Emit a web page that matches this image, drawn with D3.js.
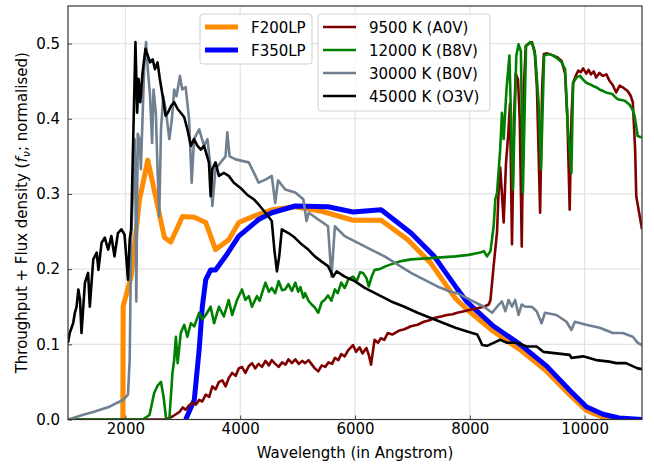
<!DOCTYPE html>
<html>
<head>
<meta charset="utf-8">
<script src="https://cdn.jsdelivr.net/npm/d3@7"></script>
<style>
  body { margin: 0; background: #fff; }
  text { font-family: "DejaVu Sans", sans-serif; }
</style>
</head>
<body>
<div id="chart-container"></div>
<script>
// filter throughput curves: [wavelength, value]
var f200lp = [[1955,0],[1960,0.15],[2100,0.19],[2245,0.292],[2390,0.345],[2680,0.242],[2790,0.236],[2995,0.270],[3200,0.269],[3400,0.262],[3570,0.226],[3800,0.239],[3975,0.262],[4320,0.273],[4550,0.279],[4960,0.283],[5420,0.277],[5965,0.265],[6455,0.265],[6920,0.239],[7320,0.208],[7750,0.161],[7955,0.146],[8415,0.117],[8875,0.093],[9340,0.064],[9740,0.033],[10030,0.012],[10320,0.003],[10700,0],[11000,0]];

var f350lp = [[3050,0],[3200,0.026],[3285,0.093],[3340,0.150],[3400,0.186],[3485,0.199],[3570,0.199],[3745,0.217],[3975,0.244],[4320,0.266],[4550,0.275],[4960,0.284],[5530,0.283],[5965,0.276],[6455,0.279],[6975,0.248],[7380,0.217],[7750,0.177],[7955,0.156],[8415,0.124],[8875,0.100],[9340,0.071],[9740,0.039],[10030,0.017],[10320,0.007],[10600,0.002],[11000,0]];

// stellar spectra (normalised f_nu)
var a0v = [[1000,0],[2700,0],[2820,0.004],[2940,0.010],[3000,0.016],[3050,0.013],[3110,0.019],[3170,0.022],[3230,0.020],[3285,0.026],[3340,0.024],[3400,0.033],[3460,0.030],[3515,0.044],[3570,0.040],[3630,0.050],[3690,0.052],[3745,0.044],[3800,0.055],[3860,0.062],[3920,0.058],[3975,0.068],[4030,0.070],[4090,0.062],[4150,0.071],[4205,0.075],[4260,0.068],[4320,0.074],[4380,0.070],[4440,0.078],[4500,0.072],[4550,0.079],[4610,0.074],[4670,0.070],[4730,0.076],[4790,0.073],[4840,0.080],[4900,0.075],[4960,0.080],[5020,0.074],[5080,0.078],[5130,0.075],[5190,0.079],[5250,0.073],[5300,0.068],[5360,0.064],[5420,0.072],[5480,0.070],[5540,0.076],[5600,0.074],[5650,0.082],[5710,0.079],[5760,0.087],[5820,0.084],[5880,0.092],[5965,0.099],[6020,0.090],[6080,0.096],[6130,0.088],[6200,0.095],[6240,0.086],[6280,0.073],[6340,0.106],[6400,0.102],[6450,0.108],[6510,0.106],[6570,0.115],[6650,0.113],[6760,0.118],[6860,0.120],[6975,0.124],[7090,0.126],[7200,0.130],[7300,0.132],[7380,0.135],[7500,0.137],[7600,0.139],[7700,0.140],[7780,0.142],[7900,0.144],[8010,0.146],[8130,0.148],[8245,0.150],[8330,0.153],[8360,0.159],[8415,0.204],[8475,0.250],[8500,0.300],[8530,0.335],[8560,0.300],[8590,0.262],[8630,0.340],[8670,0.380],[8700,0.420],[8735,0.233],[8770,0.400],[8800,0.460],[8840,0.452],[8870,0.400],[8905,0.230],[8940,0.440],[8975,0.497],[9030,0.500],[9080,0.502],[9130,0.490],[9170,0.440],[9225,0.275],[9260,0.440],[9290,0.486],[9350,0.487],[9425,0.485],[9520,0.482],[9600,0.477],[9660,0.460],[9700,0.400],[9740,0.279],[9770,0.400],[9800,0.448],[9850,0.458],[9890,0.464],[9935,0.462],[9975,0.467],[10030,0.460],[10070,0.465],[10110,0.459],[10160,0.463],[10200,0.455],[10260,0.461],[10320,0.457],[10380,0.459],[10430,0.451],[10490,0.445],[10550,0.435],[10610,0.444],[10680,0.441],[10750,0.437],[10800,0.431],[10840,0.422],[10880,0.360],[10900,0.297],[11000,0.253]];

var b8v = [[1000,0],[2300,0],[2420,0.006],[2500,0.035],[2560,0.045],[2620,0.050],[2665,0.030],[2710,0],[2765,0],[2820,0.062],[2850,0.079],[2880,0.110],[2910,0.075],[2965,0.115],[3025,0.126],[3080,0.110],[3140,0.128],[3200,0.124],[3285,0.142],[3340,0.133],[3400,0.139],[3485,0.150],[3545,0.128],[3630,0.150],[3715,0.137],[3800,0.159],[3860,0.139],[3945,0.159],[4030,0.173],[4090,0.159],[4150,0.164],[4205,0.150],[4290,0.164],[4340,0.158],[4380,0.168],[4440,0.182],[4500,0.170],[4550,0.175],[4610,0.168],[4670,0.184],[4730,0.172],[4780,0.173],[4840,0.180],[4900,0.171],[4960,0.182],[5010,0.170],[5050,0.176],[5100,0.162],[5130,0.168],[5190,0.158],[5245,0.153],[5300,0.149],[5360,0.142],[5420,0.156],[5470,0.159],[5530,0.165],[5590,0.158],[5650,0.173],[5700,0.168],[5760,0.182],[5820,0.175],[5880,0.186],[5965,0.190],[6030,0.184],[6090,0.196],[6140,0.195],[6200,0.188],[6240,0.177],[6290,0.190],[6340,0.199],[6430,0.200],[6540,0.204],[6690,0.208],[6830,0.211],[6975,0.213],[7180,0.214],[7380,0.215],[7560,0.216],[7750,0.217],[7980,0.219],[8185,0.222],[8245,0.224],[8300,0.217],[8360,0.224],[8415,0.257],[8445,0.293],[8475,0.302],[8530,0.360],[8560,0.408],[8590,0.373],[8640,0.440],[8690,0.484],[8750,0.306],[8810,0.484],[8850,0.499],[8890,0.490],[8925,0.302],[8980,0.497],[9050,0.502],[9090,0.500],[9140,0.484],[9200,0.420],[9240,0.333],[9295,0.484],[9380,0.486],[9455,0.484],[9530,0.480],[9600,0.475],[9660,0.466],[9710,0.386],[9770,0.328],[9800,0.448],[9860,0.455],[9920,0.457],[9975,0.452],[10030,0.448],[10090,0.446],[10140,0.444],[10200,0.442],[10260,0.439],[10320,0.437],[10370,0.435],[10430,0.434],[10480,0.433],[10530,0.429],[10580,0.426],[10640,0.425],[10700,0.424],[10780,0.419],[10830,0.413],[10870,0.404],[10925,0.377],[11000,0.375]];

var b0v = [[1000,0],[1090,0.002],[1250,0.006],[1440,0.010],[1600,0.014],[1725,0.017],[1850,0.022],[1960,0.026],[2045,0.033],[2075,0.080],[2100,0.240],[2130,0.300],[2160,0.373],[2175,0.300],[2190,0.157],[2215,0.380],[2245,0.373],[2270,0.333],[2330,0.475],[2360,0.502],[2390,0.466],[2430,0.430],[2465,0.368],[2490,0.439],[2530,0.408],[2560,0.333],[2590,0.270],[2620,0.386],[2660,0.430],[2710,0.408],[2765,0.373],[2810,0.399],[2850,0.439],[2890,0.430],[2950,0.457],[2990,0.439],[3050,0.442],[3110,0.399],[3155,0.315],[3195,0.373],[3285,0.386],[3370,0.364],[3430,0.373],[3485,0.333],[3515,0.284],[3570,0.333],[3660,0.342],[3745,0.350],[3775,0.382],[3815,0.350],[3920,0.346],[4030,0.344],[4150,0.342],[4265,0.324],[4320,0.315],[4440,0.319],[4550,0.324],[4610,0.288],[4660,0.318],[4785,0.306],[4960,0.302],[5100,0.293],[5155,0.264],[5195,0.275],[5360,0.266],[5530,0.257],[5590,0.190],[5650,0.257],[5820,0.244],[6050,0.235],[6280,0.226],[6515,0.217],[6745,0.206],[6975,0.195],[7205,0.186],[7435,0.177],[7665,0.170],[7780,0.168],[8010,0.159],[8245,0.150],[8390,0.142],[8475,0.150],[8560,0.157],[8620,0.144],[8675,0.159],[8735,0.150],[8790,0.159],[8850,0.139],[8905,0.153],[8965,0.150],[9080,0.150],[9165,0.144],[9250,0.128],[9310,0.142],[9510,0.139],[9685,0.130],[9770,0.119],[9830,0.130],[10030,0.126],[10260,0.122],[10430,0.117],[10490,0.115],[10665,0.115],[10840,0.110],[10925,0.102],[11000,0.099]];

var o3v = [[1000,0.102],[1030,0.115],[1090,0.128],[1120,0.142],[1150,0.150],[1180,0.173],[1210,0.159],[1235,0.115],[1295,0.182],[1350,0.195],[1380,0.150],[1440,0.213],[1500,0.222],[1530,0.199],[1585,0.235],[1640,0.242],[1700,0.226],[1755,0.244],[1810,0.217],[1870,0.248],[1930,0.253],[1985,0.246],[2045,0.186],[2075,0.240],[2100,0.253],[2140,0.386],[2175,0.502],[2205,0.408],[2230,0.453],[2260,0.422],[2300,0.462],[2350,0.493],[2390,0.484],[2430,0.475],[2475,0.479],[2515,0.466],[2560,0.475],[2600,0.453],[2650,0.430],[2700,0.404],[2740,0.408],[2795,0.417],[2850,0.422],[2910,0.413],[2965,0.408],[3025,0.402],[3080,0.386],[3140,0.364],[3195,0.373],[3255,0.364],[3315,0.359],[3370,0.364],[3455,0.342],[3485,0.297],[3515,0.333],[3570,0.342],[3630,0.324],[3715,0.328],[3800,0.324],[3890,0.315],[4005,0.308],[4120,0.299],[4235,0.293],[4320,0.286],[4440,0.275],[4550,0.264],[4595,0.226],[4640,0.197],[4680,0.217],[4725,0.253],[4840,0.248],[4950,0.242],[5070,0.233],[5185,0.226],[5300,0.217],[5420,0.210],[5530,0.204],[5620,0.190],[5680,0.197],[5820,0.190],[5995,0.184],[6170,0.175],[6400,0.166],[6630,0.157],[6860,0.150],[7090,0.142],[7320,0.135],[7550,0.128],[7750,0.122],[7955,0.117],[8130,0.113],[8175,0.106],[8215,0.099],[8300,0.098],[8415,0.102],[8530,0.106],[8650,0.102],[8820,0.102],[8990,0.097],[9165,0.097],[9280,0.090],[9510,0.088],[9740,0.086],[9770,0.082],[9975,0.084],[10200,0.079],[10430,0.077],[10550,0.075],[10720,0.075],[10925,0.068],[11000,0.067]];

var xTicks = [2000, 4000, 6000, 8000, 10000];
var yTicks = [0.0, 0.1, 0.2, 0.3, 0.4, 0.5];

var filters = [
  { name: "F200LP", data: f200lp, color: "darkorange" },
  { name: "F350LP", data: f350lp, color: "blue" }
];
var spectra = [
  { name: "9500 K (A0V)", data: a0v, color: "#800000" },
  { name: "12000 K (B8V)", data: b8v, color: "green" },
  { name: "30000 K (B0V)", data: b0v, color: "slategrey" },
  { name: "45000 K (O3V)", data: o3v, color: "black" }
];

var svg = d3.select("#chart-container").append("svg")
  .attr("width", 654)
  .attr("height", 464);

var mLeft = 68, mRight = 642, mTop = 6, mBottom = 419.5;

var x = d3.scaleLinear().domain([1000, 11000]).range([mLeft, mRight]);
var y = d3.scaleLinear().domain([0, 0.55]).range([mBottom, mTop]);

// grid
svg.append("g").selectAll("line").data(xTicks).enter().append("line")
  .attr("x1", d => x(d)).attr("x2", d => x(d))
  .attr("y1", mTop).attr("y2", mBottom)
  .attr("stroke", "#e3e3e3").attr("stroke-width", 1.2);
svg.append("g").selectAll("line").data(yTicks).enter().append("line")
  .attr("x1", mLeft).attr("x2", mRight)
  .attr("y1", d => y(d)).attr("y2", d => y(d))
  .attr("stroke", "#e3e3e3").attr("stroke-width", 1.2);

svg.append("clipPath").attr("id", "clip")
  .append("rect").attr("x", mLeft).attr("y", mTop)
  .attr("width", mRight - mLeft).attr("height", mBottom - mTop);

var line = d3.line().x(d => x(d[0])).y(d => y(d[1]));

var plot = svg.append("g").attr("clip-path", "url(#clip)");

filters.forEach(function (s) {
  plot.append("path").datum(s.data)
    .attr("d", line).attr("fill", "none")
    .attr("stroke", s.color).attr("stroke-width", 5)
    .attr("stroke-linejoin", "round");
});
spectra.forEach(function (s) {
  plot.append("path").datum(s.data)
    .attr("d", line).attr("fill", "none")
    .attr("stroke", s.color).attr("stroke-width", 2.6)
    .attr("stroke-linejoin", "round");
});

// axes
var xAxis = svg.append("g")
  .attr("transform", "translate(0," + mBottom + ")")
  .call(d3.axisBottom(x).tickValues(xTicks).tickFormat(d3.format("d")).tickSizeInner(-4).tickSizeOuter(0).tickPadding(4));
var yAxis = svg.append("g")
  .attr("transform", "translate(" + mLeft + ",0)")
  .call(d3.axisLeft(y).tickValues(yTicks).tickFormat(d3.format(".1f")).tickSizeInner(-4).tickSizeOuter(0).tickPadding(8));

[xAxis, yAxis].forEach(function (a) {
  a.select(".domain").remove();
  a.selectAll("line").attr("stroke", "#444");
  a.selectAll("text").attr("font-size", "15px").attr("fill", "#000")
    .style("font-family", "DejaVu Sans");
});

// frame
svg.append("rect")
  .attr("x", mLeft).attr("y", mTop)
  .attr("width", mRight - mLeft).attr("height", mBottom - mTop)
  .attr("fill", "none").attr("stroke", "#333").attr("stroke-width", 1.2);

// labels
svg.append("text")
  .attr("x", (mLeft + mRight) / 2).attr("y", 458)
  .attr("text-anchor", "middle").attr("font-size", "15px")
  .text("Wavelength (in Angstrom)");

var ylab = svg.append("text")
  .attr("transform", "translate(27," + ((mTop + mBottom) / 2) + ") rotate(-90)")
  .attr("text-anchor", "middle").attr("font-size", "15px");
ylab.append("tspan").text("Throughput + Flux density (");
ylab.append("tspan").attr("font-style", "italic").text("f");
ylab.append("tspan").attr("font-style", "italic").attr("font-size", "11px").attr("dy", "3").text("\u03bd");
ylab.append("tspan").attr("dy", "-3").text("; normalised)");

// legends
function drawLegend(items, bx, by, bw, bh, lw) {
  var g = svg.append("g");
  g.append("rect").attr("x", bx).attr("y", by).attr("width", bw).attr("height", bh)
    .attr("rx", 3).attr("fill", "white").attr("fill-opacity", 0.8)
    .attr("stroke", "#d0d0d0").attr("stroke-width", 1);
  items.forEach(function (s, i) {
    var ly = by + 13 + i * 23;
    g.append("line").attr("x1", bx + 5).attr("x2", bx + 38)
      .attr("y1", ly).attr("y2", ly)
      .attr("stroke", s.color).attr("stroke-width", lw);
    g.append("text").attr("x", bx + 51).attr("y", ly + 5.5)
      .attr("font-size", "15px").text(s.name);
  });
}
drawLegend(filters, 200, 14, 112, 50, 5);
drawLegend(spectra, 318, 14, 172, 97, 2.6);
</script>
</body>
</html>
